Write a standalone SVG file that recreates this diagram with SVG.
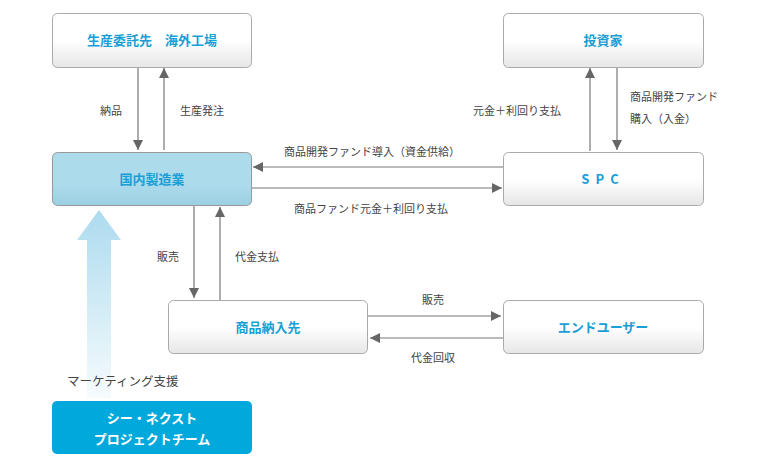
<svg xmlns="http://www.w3.org/2000/svg" width="762" height="468" viewBox="0 0 762 468">
<defs>
<linearGradient id="gw" x1="0" y1="0" x2="0" y2="1"><stop offset="0" stop-color="#ffffff"/><stop offset="0.5" stop-color="#ffffff"/><stop offset="1" stop-color="#e6e6e6"/></linearGradient>
<linearGradient id="gb" x1="0" y1="0" x2="0" y2="1"><stop offset="0" stop-color="#acdbeb"/><stop offset="0.6" stop-color="#acdbeb"/><stop offset="1" stop-color="#9ccfe3"/></linearGradient>
<linearGradient id="ga" x1="0" y1="0" x2="0" y2="1"><stop offset="0" stop-color="#acdbee"/><stop offset="1" stop-color="#acdbee" stop-opacity="0.1"/></linearGradient>
<marker id="ah" viewBox="0 0 10 10" refX="10" refY="5" markerWidth="10" markerHeight="10" markerUnits="userSpaceOnUse" orient="auto"><path d="M0,0L10,5L0,10z" fill="#666"/></marker>
<style>
.w{fill:url(#gw);stroke:#aaa;stroke-width:1}
.t{font-family:"Noto Sans CJK JP","Noto Sans",sans-serif;font-size:13px;font-weight:bold;fill:#1a9ed6;text-anchor:middle}
.l{font-family:"Noto Sans CJK JP","Noto Sans",sans-serif;font-size:11px;fill:#444}
.c{stroke:#777;stroke-width:1.2;fill:none;marker-end:url(#ah)}
</style>
</defs>
<path d="M77,240L99,210L121,240L111,240L111,398L87,398L87,240Z" fill="url(#ga)"/>
<g id="n1"><rect class="w" x="52.5" y="13.5" width="199" height="54" rx="5"/><text class="t" x="152" y="45">生産委託先　海外工場</text></g>
<g id="n2"><rect class="w" x="503.5" y="13.5" width="200" height="54" rx="5"/><text class="t" x="603" y="45">投資家</text></g>
<g id="n3"><rect x="52.5" y="152.5" width="199" height="53" rx="5" fill="url(#gb)" stroke="#999"/><text class="t" x="152" y="184">国内製造業</text></g>
<g id="n4"><rect class="w" x="503.5" y="152.5" width="200" height="53" rx="5"/><text class="t" x="603" y="184" letter-spacing="6">SPC</text></g>
<g id="n5"><rect class="w" x="168.5" y="300.5" width="199" height="53" rx="5"/><text class="t" x="268" y="332">商品納入先</text></g>
<g id="n6"><rect class="w" x="503.5" y="300.5" width="200" height="53" rx="5"/><text class="t" x="603" y="332">エンドユーザー</text></g>
<g id="n7"><rect x="52" y="401" width="200" height="53" rx="5" fill="#00a8dc"/><text class="t" x="152" y="423" style="fill:#fff">シー・ネクスト</text><text class="t" x="152" y="444" style="fill:#fff">プロジェクトチーム</text></g>
<g id="connectors">
<path class="c" d="M138,68V150"/><path class="c" d="M164,150V68"/>
<path class="c" d="M503,167H253"/><path class="c" d="M252,188H502"/>
<path class="c" d="M590,151V68"/><path class="c" d="M617,68V150"/>
<path class="c" d="M194,206V298"/><path class="c" d="M220,300V207"/>
<path class="c" d="M368,316H501"/><path class="c" d="M503,338H370"/>
</g>
<g class="l">
<text x="100" y="115">納品</text><text x="180" y="115">生産発注</text>
<text x="473" y="115">元金＋利回り支払</text><text x="630" y="101">商品開発ファンド</text><text x="630" y="123">購入（入金）</text>
<text x="284" y="156">商品開発ファンド導入（資金供給）</text><text x="294" y="213">商品ファンド元金＋利回り支払</text>
<text x="157" y="261">販売</text><text x="235" y="261">代金支払</text>
<text x="422" y="304">販売</text><text x="411" y="362">代金回収</text>
<text x="67" y="386" style="font-size:12.5px">マーケティング支援</text>
</g>
</svg>
